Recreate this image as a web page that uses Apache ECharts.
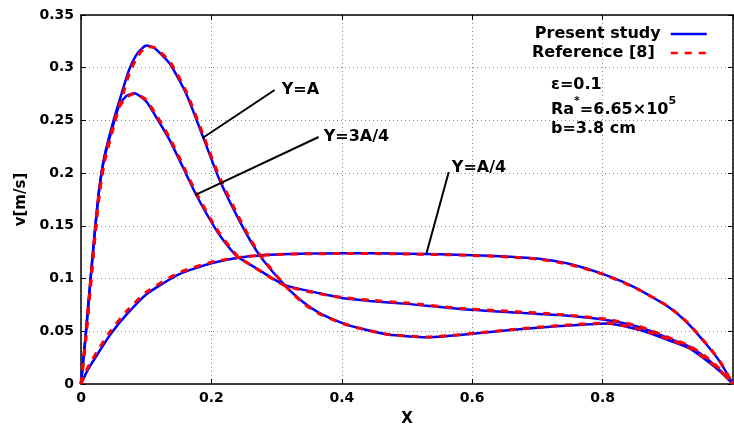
<!DOCTYPE html>
<html>
<head>
<meta charset="utf-8">
<script src="https://cdn.jsdelivr.net/npm/echarts@6/dist/echarts.min.js"></script>
<style>
html,body{margin:0;padding:0;background:#fff;}
#chart{width:734px;height:434px;}
</style>
</head>
<body>
<div id="chart"></div>
<script>
// ---- data ----
const xTicks = [0, 0.2, 0.4, 0.6, 0.8, 1];
const yTicks = [0, 0.05, 0.1, 0.15, 0.2, 0.25, 0.3, 0.35];

// Y = A
const xA = [0, 0.007, 0.014, 0.021, 0.028, 0.036, 0.05, 0.064, 0.0744, 0.087, 0.1005, 0.113, 0.136, 0.161, 0.187, 0.2126, 0.248, 0.274, 0.312, 0.34, 0.366, 0.401, 0.4275, 0.47, 0.53, 0.581, 0.658, 0.734, 0.806, 0.857, 0.908, 0.934, 0.96, 0.98, 1.0];
const vA_present = [0, 0.045, 0.095, 0.143, 0.185, 0.216, 0.25, 0.279, 0.299, 0.314, 0.321, 0.3184, 0.304, 0.2757, 0.2346, 0.1935, 0.149, 0.122, 0.094, 0.078, 0.0673, 0.0578, 0.0528, 0.047, 0.0443, 0.0465, 0.0512, 0.055, 0.0575, 0.0512, 0.040, 0.0335, 0.022, 0.012, 0];
const vA_reference = [0, 0.041, 0.089, 0.137, 0.180, 0.212, 0.246, 0.274, 0.295, 0.311, 0.320, 0.319, 0.306, 0.278, 0.237, 0.196, 0.151, 0.123, 0.094, 0.077, 0.0665, 0.0575, 0.0528, 0.0472, 0.0445, 0.0468, 0.0515, 0.0555, 0.0578, 0.052, 0.041, 0.0342, 0.023, 0.013, 0];

// Y = 3A/4
const x34 = [0, 0.007, 0.014, 0.021, 0.028, 0.036, 0.05, 0.059, 0.07, 0.082, 0.1, 0.115, 0.136, 0.156, 0.177, 0.2075, 0.228, 0.24, 0.269, 0.312, 0.366, 0.401, 0.443, 0.5, 0.581, 0.66, 0.734, 0.806, 0.857, 0.908, 0.934, 0.96, 0.98, 1.0];
const v34_present = [0, 0.045, 0.095, 0.143, 0.185, 0.215, 0.247, 0.265, 0.2735, 0.2757, 0.268, 0.2535, 0.2314, 0.206, 0.179, 0.146, 0.1287, 0.1207, 0.1097, 0.094, 0.086, 0.0815, 0.0787, 0.076, 0.0711, 0.068, 0.0654, 0.0607, 0.0538, 0.0417, 0.0352, 0.024, 0.013, 0];
const v34_reference = [0, 0.041, 0.089, 0.137, 0.180, 0.211, 0.244, 0.263, 0.272, 0.2755, 0.2695, 0.2555, 0.2335, 0.208, 0.181, 0.1475, 0.13, 0.1215, 0.1095, 0.0935, 0.0855, 0.082, 0.0795, 0.0768, 0.0718, 0.0688, 0.066, 0.0615, 0.0545, 0.0425, 0.036, 0.025, 0.014, 0];

// Y = A/4
const xQ = [0, 0.01, 0.025, 0.045, 0.07, 0.1, 0.15, 0.2, 0.25, 0.3, 0.35, 0.4, 0.45, 0.5, 0.55, 0.6, 0.65, 0.7, 0.75, 0.8, 0.85, 0.9, 0.93, 0.96, 0.98, 1.0];
const vQ_present = [0, 0.013, 0.028, 0.047, 0.066, 0.085, 0.104, 0.1145, 0.1205, 0.1228, 0.1237, 0.124, 0.124, 0.1236, 0.123, 0.1222, 0.121, 0.119, 0.1138, 0.1045, 0.0915, 0.0735, 0.058, 0.037, 0.021, 0];
const vQ_reference = [0, 0.015, 0.031, 0.05, 0.069, 0.087, 0.1055, 0.1155, 0.1208, 0.1228, 0.1235, 0.1237, 0.1237, 0.1233, 0.1228, 0.122, 0.1207, 0.1185, 0.1132, 0.1042, 0.0912, 0.0738, 0.0585, 0.0375, 0.0215, 0];

const curveLabels = ['Y=A', 'Y=3A/4', 'Y=A/4'];
const seriesNames = ['Present study', 'Reference [8]'];

// ---- chart ----
const FONT = 'DejaVu Sans';
const zip = (xs, ys) => xs.map((x, i) => [x, ys[i]]);

function presentSeries(xs, ys) {
  return {
    name: seriesNames[0], type: 'line', data: zip(xs, ys), smooth: 0.2,
    symbol: 'none', lineStyle: { color: '#0000ff', width: 2.5 }, itemStyle: { color: '#0000ff' }, z: 3
  };
}
function referenceSeries(xs, ys) {
  return {
    name: seriesNames[1], type: 'line', data: zip(xs, ys), smooth: 0.2,
    symbol: 'none', lineStyle: { color: '#ff0000', width: 3, type: [7, 7] }, itemStyle: { color: '#ff0000' }, z: 4
  };
}

const axisLabelStyle = { color: '#000', fontFamily: FONT, fontWeight: 'bold', fontSize: 14 };
const gridLine = { show: true, lineStyle: { color: '#8a8a8a', width: 1, type: [1, 3] } };
const legendBase = {
  right: 26, padding: 0, orient: 'vertical', align: 'right',
  itemWidth: 36, itemHeight: 14, selectedMode: false,
  itemStyle: { opacity: 0 },
  lineStyle: { width: 2.5 }
};

const chart = echarts.init(document.getElementById('chart'), null, { renderer: 'canvas' });
chart.setOption({
  animation: false,
  backgroundColor: '#fff',
  grid: { left: 81, right: 1, top: 15, bottom: 50, containLabel: false },
  legend: [
    Object.assign({}, legendBase, {
      data: [seriesNames[0]], top: 26,
      textStyle: { color: '#000', fontFamily: FONT, fontWeight: 'bold', fontSize: 16, padding: [0, 5, 0, 0] }
    }),
    Object.assign({}, legendBase, {
      data: [seriesNames[1]], top: 45,
      textStyle: { color: '#000', fontFamily: FONT, fontWeight: 'bold', fontSize: 16, padding: [0, 11, 0, 0] }
    })
  ],
  xAxis: [
    {
      type: 'value', min: xTicks[0], max: xTicks[xTicks.length - 1], interval: 0.2,
      name: 'X', nameLocation: 'middle', nameGap: 28,
      nameTextStyle: { color: '#000', fontFamily: FONT, fontWeight: 'bold', fontSize: 15 },
      axisLine: { show: true, onZero: false, lineStyle: { color: '#000', width: 1.5 } },
      axisTick: { show: true, inside: true, length: 5, lineStyle: { color: '#000' } },
      axisLabel: Object.assign({ margin: 7, showMaxLabel: false, formatter: v => String(+v.toFixed(2)) }, axisLabelStyle),
      splitLine: gridLine
    },
    {
      type: 'value', position: 'top', min: xTicks[0], max: xTicks[xTicks.length - 1], interval: 0.2,
      axisLine: { show: true, onZero: false, lineStyle: { color: '#000', width: 1.5 } },
      axisTick: { show: true, inside: true, length: 5, lineStyle: { color: '#000' } },
      axisLabel: { show: false }, splitLine: { show: false }
    }
  ],
  yAxis: [
    {
      type: 'value', min: yTicks[0], max: yTicks[yTicks.length - 1], interval: 0.05,
      name: 'v[m/s]', nameLocation: 'middle', nameGap: 41,
      nameTextStyle: { color: '#000', fontFamily: FONT, fontWeight: 'bold', fontSize: 15 },
      axisLine: { show: true, onZero: false, lineStyle: { color: '#000', width: 1.5 } },
      axisTick: { show: true, inside: true, length: 5, lineStyle: { color: '#000' } },
      axisLabel: Object.assign({ margin: 7, formatter: v => String(+v.toFixed(2)) }, axisLabelStyle),
      splitLine: gridLine
    },
    {
      type: 'value', position: 'right', min: yTicks[0], max: yTicks[yTicks.length - 1], interval: 0.05,
      axisLine: { show: true, onZero: false, lineStyle: { color: '#000', width: 1.5 } },
      axisTick: { show: true, inside: true, length: 5, lineStyle: { color: '#000' } },
      axisLabel: { show: false }, splitLine: { show: false }
    }
  ],
  series: [
    presentSeries(xA, vA_present),
    presentSeries(x34, v34_present),
    presentSeries(xQ, vQ_present),
    referenceSeries(xA, vA_reference),
    referenceSeries(x34, v34_reference),
    referenceSeries(xQ, vQ_reference),
    {
      name: 'annotations', type: 'scatter', symbolSize: 0, silent: true, z: 6,
      itemStyle: { opacity: 1 },
      data: [
        { value: [0.3078, 0.2789], label: { formatter: curveLabels[0] } },
        { value: [0.3722, 0.2343], label: { formatter: curveLabels[1] } },
        { value: [0.5687, 0.2049], label: { formatter: curveLabels[2] } }
      ],
      label: { show: true, position: 'right', distance: 0, color: '#000', opacity: 1, fontFamily: FONT, fontWeight: 'bold', fontSize: 16 },
      markLine: {
        silent: true, symbol: 'none', animation: false,
        lineStyle: { color: '#000', width: 2, type: 'solid', opacity: 1 },
        label: { show: false },
        data: [
          [{ coord: [0.1865, 0.2333] }, { coord: [0.297, 0.2789] }],
          [{ coord: [0.1757, 0.1793] }, { coord: [0.3645, 0.2343] }],
          [{ coord: [0.530, 0.1243] }, { coord: [0.564, 0.2011] }]
        ]
      }
    }
  ],
  graphic: [
    { type: 'text', left: 551, top: 77, style: { text: 'ε=0.1', fill: '#000', font: 'bold 16px "DejaVu Sans"' } },
    {
      type: 'text', left: 551, top: 96,
      style: {
        text: '{a|Ra}{s|*}{a|=6.65×10}{s|5}', fill: '#000',
        rich: {
          a: { fontFamily: FONT, fontWeight: 'bold', fontSize: 16, verticalAlign: 'bottom', lineHeight: 22 },
          s: { fontFamily: FONT, fontWeight: 'bold', fontSize: 11, verticalAlign: 'top', lineHeight: 22 }
        }
      }
    },
    { type: 'text', left: 551, top: 121, style: { text: 'b=3.8 cm', fill: '#000', font: 'bold 16px "DejaVu Sans"' } }
  ]
});
</script>
</body>
</html>
